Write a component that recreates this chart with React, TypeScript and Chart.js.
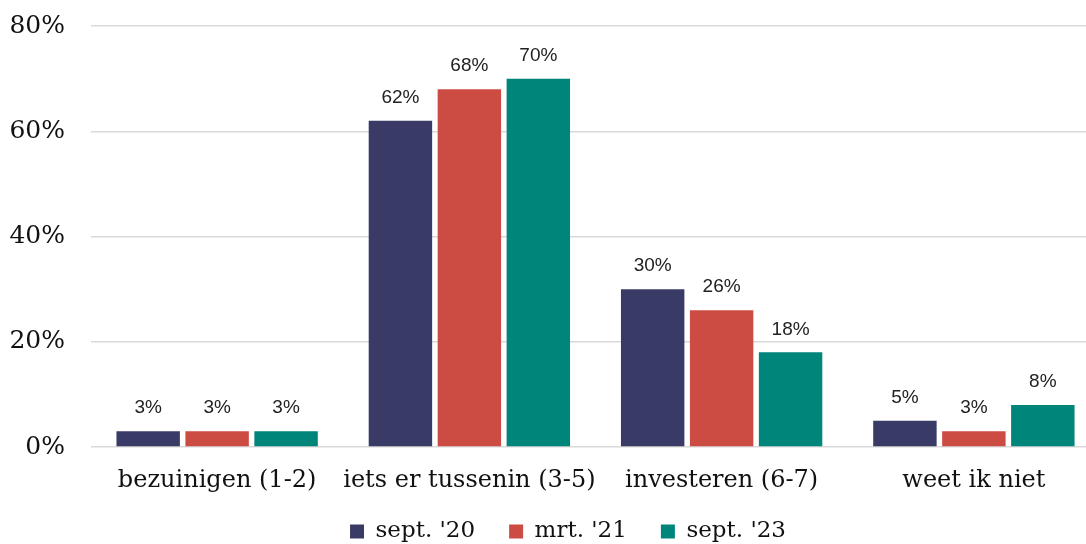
import React, { useEffect, useRef } from "react";
import { Chart, registerables } from "chart.js";

Chart.register(...registerables);

const categories = ["bezuinigen (1-2)", "iets er tussenin (3-5)", "investeren (6-7)", "weet ik niet"];
const seriesNames = ["sept. '20", "mrt. '21", "sept. '23"];
const sept20 = [3, 62, 30, 5];
const mrt21 = [3, 68, 26, 3];
const sept23 = [3, 70, 18, 8];
const colors = ["#393B66", "#CC4C43", "#00857A"];
const yTicks = [0, 20, 40, 60, 80];

const serif = "'DejaVu Serif', serif";
const LEGEND_PAD = 34;
const LEGEND_HEIGHT = 49;
const LEGEND_SHIFT_Y = 9;
const LEGEND_SHIFT_X = 18;

const labelPlugin = {
  id: "barLabels",
  afterInit(chart: any) {
    const legend = chart.legend;
    if (legend) {
      const origFit = legend.fit.bind(legend);
      legend.fit = function () {
        origFit();
        this.height = LEGEND_HEIGHT;
      };
      const origDraw = legend.draw.bind(legend);
      legend.draw = function () {
        const t = this.top;
        const l = this.left;
        const r = this.right;
        this.top = t - LEGEND_SHIFT_Y;
        this.left = l + LEGEND_SHIFT_X;
        this.right = r + LEGEND_SHIFT_X;
        origDraw();
        this.top = t;
        this.left = l;
        this.right = r;
      };
    }
  },
  afterDatasetsDraw(chart: any) {
    const ctx = chart.ctx;
    ctx.save();
    ctx.font = "19px 'Liberation Sans', Arial, sans-serif";
    ctx.fillStyle = "#222";
    ctx.textAlign = "center";
    ctx.textBaseline = "middle";
    chart.data.datasets.forEach((ds: any, i: number) => {
      const meta = chart.getDatasetMeta(i);
      meta.data.forEach((bar: any, j: number) => {
        ctx.fillText(ds.data[j] + "%", bar.x, bar.y - 23);
      });
    });
    ctx.restore();
  },
};

export default function App() {
  const ref = useRef<HTMLCanvasElement>(null);
  useEffect(() => {
    document.body.style.margin = "0";
    document.body.style.overflow = "hidden";
    const data = [sept20, mrt21, sept23];
    const chart = new Chart(ref.current!, {
      type: "bar",
      data: {
        labels: categories,
        datasets: seriesNames.map((name, i) => ({
          label: name,
          data: data[i],
          backgroundColor: colors[i],
          categoryPercentage: 0.82,
          barPercentage: 0.92,
        })),
      },
      options: {
        animation: false,
        responsive: false,
        layout: { padding: { top: 26, right: 0, bottom: 0, left: 0 } },
        plugins: {
          tooltip: { enabled: false },
          legend: {
            position: "bottom",
            labels: {
              font: { family: serif, size: 23 },
              color: "#111",
              boxWidth: 14,
              boxHeight: 14,
              padding: LEGEND_PAD,
            },
          },
        },
        scales: {
          y: {
            min: 0,
            max: 80,
            afterBuildTicks: (s: any) => {
              s.ticks = yTicks.map((v) => ({ value: v }));
            },
            afterFit: (s: any) => {
              s.width = 91;
              s.paddingTop = 0;
              s.paddingBottom = 0;
            },
            ticks: {
              callback: (v: any) => v + "%",
              font: { family: serif, size: 25 },
              color: "#111",
              padding: 26,
            },
            grid: { color: "#d9d9d9", drawTicks: false, lineWidth: 1.5 },
            border: { display: false },
          },
          x: {
            afterFit: (s: any) => {
              s.height = 48;
            },
            ticks: {
              font: { family: serif, size: 24 },
              color: "#111",
              padding: 19,
              maxRotation: 0,
              minRotation: 0,
              autoSkip: false,
            },
            grid: { display: false, drawTicks: false },
            border: { display: false },
          },
        },
      },
      plugins: [labelPlugin],
    });
    return () => chart.destroy();
  }, []);
  return (
    <div style={{ position: "absolute", left: 0, top: 0, width: 1100, height: 544 }}>
      <canvas ref={ref} width={1100} height={544} style={{ display: "block" }} />
    </div>
  );
}
